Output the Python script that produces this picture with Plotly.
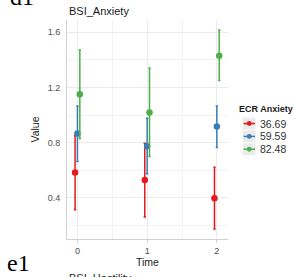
import plotly.graph_objects as go

# ---- data ----
times = [0, 1, 2]
groups = ["36.69", "59.59", "82.48"]
means = {
    "36.69": [0.583, 0.529, 0.398],
    "59.59": [0.866, 0.774, 0.916],
    "82.48": [1.150, 1.019, 1.430],
}
upper = {
    "36.69": [0.852, 0.795, 0.621],
    "59.59": [1.066, 0.976, 1.066],
    "82.48": [1.470, 1.340, 1.616],
}
lower = {
    "36.69": [0.314, 0.262, 0.174],
    "59.59": [0.664, 0.574, 0.764],
    "82.48": [0.830, 0.700, 1.250],
}
y_ticks = [0.4, 0.8, 1.2, 1.6]
x_ticks = [0, 1, 2]

# ---- style ----
colors = {"36.69": "#E41A1C", "59.59": "#377EB8", "82.48": "#4DAF4A"}
dodge = {"36.69": -0.034, "59.59": 0.0, "82.48": 0.034}
W, H = 294, 277
L, R, T, B = 67, 228, 20, 242
FONT = "Liberation Sans, Arial, sans-serif"

fig = go.Figure()
for g in groups:
    xs = [t + dodge[g] for t in times]
    ep = [u - m for u, m in zip(upper[g], means[g])]
    em = [m - l for m, l in zip(means[g], lower[g])]
    fig.add_trace(go.Scatter(
        x=xs, y=means[g], mode="markers", name=g,
        marker=dict(color=colors[g], size=6.5),
        error_y=dict(type="data", array=ep, arrayminus=em, color=colors[g],
                     thickness=1.5, width=1.2),
        showlegend=False,
    ))

def px_x(p):
    return (p - L) / (R - L)

def px_y(p):
    return (B - p) / (B - T)

shapes = []
annotations = []

# manual legend
annotations.append(dict(text="<b>ECR Anxiety</b>", x=px_x(237), y=px_y(110), xref="paper", yref="paper",
                        xanchor="left", yanchor="middle", showarrow=False,
                        font=dict(family=FONT, size=9, color="#1a1a1a")))
item_y = [125, 138, 151]
for g, yy in zip(groups, item_y):
    shapes.append(dict(type="rect", xref="paper", yref="paper",
                       x0=px_x(243), x1=px_x(255.5), y0=px_y(yy - 6), y1=px_y(yy + 6),
                       fillcolor="#ebebeb", line=dict(width=0), layer="below"))
    shapes.append(dict(type="line", xref="paper", yref="paper",
                       x0=px_x(243.5), x1=px_x(255), y0=px_y(yy), y1=px_y(yy),
                       line=dict(color=colors[g], width=1.5)))
    shapes.append(dict(type="circle", xref="paper", yref="paper",
                       x0=px_x(246.8), x1=px_x(251.7), y0=px_y(yy - 2.5), y1=px_y(yy + 2.5),
                       fillcolor=colors[g], line=dict(width=0)))
    annotations.append(dict(text=g, x=px_x(258), y=px_y(yy), xref="paper", yref="paper",
                            xanchor="left", yanchor="middle", showarrow=False,
                            font=dict(family=FONT, size=10.5, color="#333333")))

# panel labels
annotations.append(dict(text="d1", x=px_x(8), y=px_y(12), xref="paper", yref="paper",
                        xanchor="left", yanchor="bottom", showarrow=False,
                        font=dict(family="Liberation Serif, Times New Roman, serif", size=24, color="black")))
annotations.append(dict(text="e1", x=px_x(5), y=px_y(266), xref="paper", yref="paper",
                        xanchor="left", yanchor="middle", showarrow=False,
                        font=dict(family="Liberation Serif, Times New Roman, serif", size=24, color="black")))
annotations.append(dict(text="BSI_Hostility", x=px_x(67), y=px_y(282), xref="paper", yref="paper",
                        xanchor="left", yanchor="middle", showarrow=False,
                        font=dict(family=FONT, size=11, color="#1a1a1a")))
annotations.append(dict(text="BSI_Anxiety", x=px_x(67), y=px_y(11), xref="paper", yref="paper",
                        xanchor="left", yanchor="middle", showarrow=False,
                        font=dict(family=FONT, size=11, color="#1a1a1a")))

fig.update_layout(
    width=W, height=H,
    margin=dict(l=L, r=W - R, t=T, b=H - B, pad=0),
    paper_bgcolor="white", plot_bgcolor="white",
    shapes=shapes, annotations=annotations,
    showlegend=False,
    font=dict(family=FONT),
)
fig.update_xaxes(
    range=[-0.15, 2.16], tickvals=x_ticks, ticktext=[str(t) for t in x_ticks],
    showgrid=True, gridcolor="#ebebeb", gridwidth=1,
    minor=dict(tickvals=[0.5, 1.5], showgrid=True, gridcolor="#f3f3f3", gridwidth=0.6),
    showline=True, linecolor="#d0d0d0", linewidth=1, zeroline=False,
    ticks="outside", ticklen=3, tickcolor="#d0d0d0",
    tickfont=dict(size=9, color="#4d4d4d"),
    title=dict(text="Time", font=dict(size=10.5, color="#1a1a1a"), standoff=2),
)
fig.update_yaxes(
    range=[0.102, 1.688], tickvals=y_ticks, ticktext=["0.4", "0.8", "1.2", "1.6"],
    showgrid=True, gridcolor="#ebebeb", gridwidth=1,
    minor=dict(tickvals=[0.2, 0.6, 1.0, 1.4], showgrid=True, gridcolor="#f3f3f3", gridwidth=0.6),
    showline=True, linecolor="#d0d0d0", linewidth=1, zeroline=False,
    ticks="", ticklabelstandoff=4,
    tickfont=dict(size=9, color="#4d4d4d"),
    title=dict(text="Value", font=dict(size=10.5, color="#1a1a1a"), standoff=6),
)

fig.write_html("out.html", config={"displayModeBar": False},
               post_script="document.body.style.margin='0';document.body.style.overflow='hidden';")
